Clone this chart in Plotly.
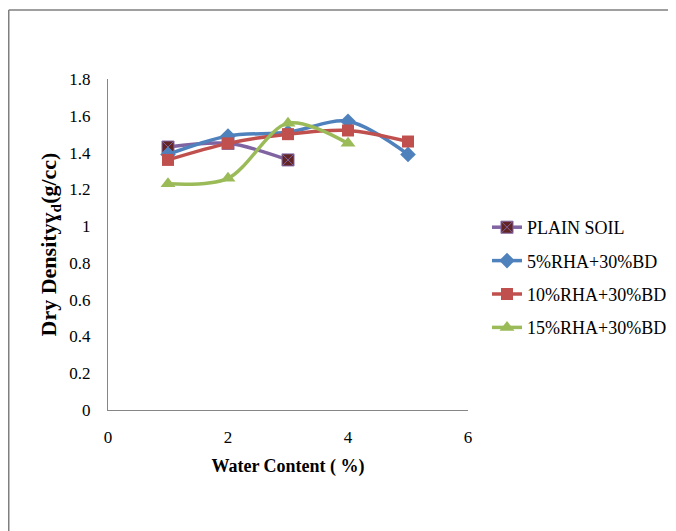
import plotly.graph_objects as go

water_content = [1, 2, 3, 4, 5]
plain_x = [1, 2, 3]
plain_soil = [1.43, 1.45, 1.36]
rha5 = [1.39, 1.49, 1.51, 1.57, 1.39]
rha10 = [1.36, 1.45, 1.50, 1.52, 1.46]
rha15 = [1.23, 1.26, 1.56, 1.45]
rha15_x = [1, 2, 3, 4]
names = ["PLAIN SOIL", "5%RHA+30%BD", "10%RHA+30%BD", "15%RHA+30%BD"]

FONT = "Liberation Serif"
W, H = 676, 531
OFF = 8  # page body margin offset
L, T = 108 - OFF, 79 - OFF
R, B = W - (468 - OFF), H - (410 - OFF)

fig = go.Figure()
fig.add_trace(go.Scatter(x=plain_x, y=plain_soil, name=names[0], mode="lines+markers",
                         line=dict(color="#8064A2", width=3.5, shape="spline", smoothing=0.9),
                         marker=dict(symbol="square-x", size=12, color="#632523",
                                     line=dict(color="#8064A2", width=1)),
                         legendgroup="a"))
fig.add_trace(go.Scatter(x=water_content, y=rha5, name=names[1], mode="lines+markers",
                         line=dict(color="#4F81BD", width=3.5, shape="spline", smoothing=0.9),
                         marker=dict(symbol="diamond", size=12, color="#4F81BD"),
                         legendgroup="b"))
fig.add_trace(go.Scatter(x=water_content, y=rha10, name=names[2], mode="lines+markers",
                         line=dict(color="#C0504D", width=3.5, shape="spline", smoothing=0.9),
                         marker=dict(symbol="square", size=12, color="#C0504D"),
                         legendgroup="c"))
fig.add_trace(go.Scatter(x=rha15_x, y=rha15, name=names[3], mode="lines+markers",
                         line=dict(color="#9BBB59", width=3.5, shape="spline", smoothing=0.9),
                         marker=dict(symbol="triangle-up", size=13, color="#9BBB59"),
                         legendgroup="d"))

pw = W - L - R
ph = H - T - B

def px2x(p):
    return (p - OFF - L) / pw

def px2y(p):
    return (H - B - (p - OFF)) / ph

fig.update_layout(
    width=W, height=H,
    margin=dict(l=L, r=R, t=T, b=B),
    paper_bgcolor="white", plot_bgcolor="white",
    font=dict(family=FONT, size=17, color="black"),
    showlegend=True,
    legend=dict(x=px2x(487), y=px2y(209), xanchor="left", yanchor="top",
                font=dict(family=FONT, size=18, color="black"),
                tracegroupgap=7, itemwidth=30, bgcolor="rgba(0,0,0,0)"),
    xaxis=dict(range=[0, 6], tickvals=[0, 2, 4, 6], showgrid=False, zeroline=False,
               showline=True, linecolor="#868686", linewidth=1, ticks="",
               ticklabelstandoff=12,
               title=dict(text="<b>Water Content ( %)</b>", standoff=12,
                          font=dict(family=FONT, size=18, color="black"))),
    yaxis=dict(range=[0, 1.8], tickvals=[0, 0.2, 0.4, 0.6, 0.8, 1, 1.2, 1.4, 1.6, 1.8],
               ticktext=["0", "0.2", "0.4", "0.6", "0.8", "1", "1.2", "1.4", "1.6", "1.8"],
               showgrid=False, zeroline=False,
               showline=True, linecolor="#868686", linewidth=1, ticks="",
               ticklabelstandoff=13,
               title=dict(text="<b>Dry Densityɣ<sub>d</sub>(g/cc)</b>", standoff=6,
                          font=dict(family=FONT, size=22, color="black"))),
    shapes=[
        dict(type="line", xref="paper", yref="paper", x0=px2x(8.75), x1=px2x(700),
             y0=px2y(10), y1=px2y(10), line=dict(color="#7F7F7F", width=1.5)),
        dict(type="line", xref="paper", yref="paper", x0=px2x(8.75), x1=px2x(8.75),
             y0=px2y(10), y1=px2y(560), line=dict(color="#7F7F7F", width=1.5)),
    ],
)

fig.write_html("out.html")
